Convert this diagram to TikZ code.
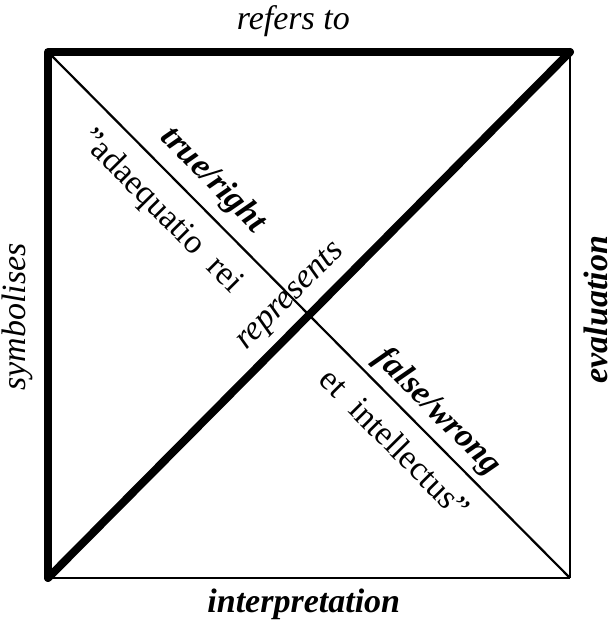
\documentclass[tikz,border=0pt]{standalone}
\usepackage{fontspec}
\setmainfont{Liberation Serif}
\usetikzlibrary{positioning}

\begin{document}
\begin{tikzpicture}[
    x=1pt, y=1pt,
    strong/.style={line width=8pt, line cap=round, line join=round},
    weak/.style={line width=2.2pt},
    lbl/.style={font=\fontsize{34}{40}\selectfont\itshape, inner sep=0pt},
    key/.style={font=\fontsize{34}{40}\selectfont\bfseries\itshape, inner sep=0pt},
    quote/.style={font=\fontsize{34}{40}\selectfont, inner sep=0pt}
  ]
    \useasboundingbox (0,0) rectangle (614,629);
    \coordinate (tl) at (48,577);
    \coordinate (tr) at (570,577);
    \coordinate (bl) at (48,51);
    \coordinate (br) at (570,51);

    % thin lines
    \draw[weak] (tr) -- (br);
    \draw[weak] (bl) -- (br);
    \draw[weak] (tl) -- node[key, sloped, above=10pt, pos=0.28] (truth) {true/right}
                        node[quote, sloped, below=16pt, pos=0.26] (adaeq) {\symbol{34}adaequatio~~rei}
                        node[key, sloped, above=6pt, pos=0.715] (falsity) {false/wrong}
                        node[quote, sloped, below=16pt, pos=0.705] (intell) {et~~intellectus\symbol{34}} (br);

    % thick lines
    \draw[strong] (bl) -- (tl) -- (tr);
    \draw[strong] (bl) -- node[lbl, sloped, above=8pt, pos=0.5] (repr) {represents} (tr);

    % edge labels
    \path (tl) -- node[lbl, above=15pt, pos=0.47] (refers) {refers to} (tr);
    \path (bl) -- node[key, below=11pt, pos=0.49] (interp) {interpretation} (br);
    \path (bl) -- node[lbl, sloped, above=15pt, pos=0.496] (symb) {symbolises} (tl);
    \path (br) -- node[key, sloped, below=14pt, pos=0.51] (eval) {evaluation} (tr);
  \end{tikzpicture}
\end{document}
